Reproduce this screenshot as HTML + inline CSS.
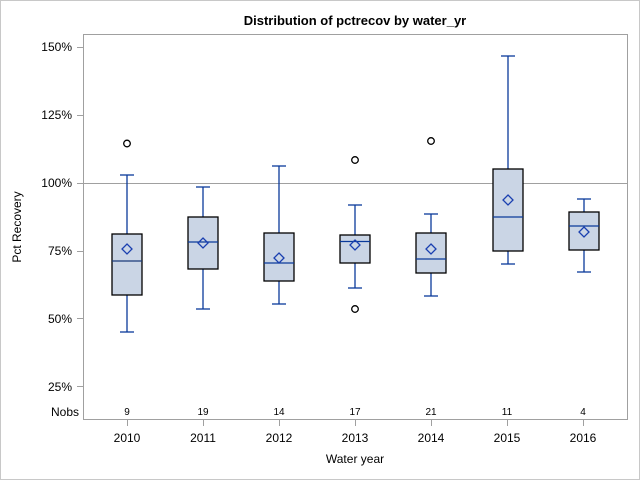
<!DOCTYPE html>
<html><head><style>body{margin:0;background:#fff}svg{display:block}</style></head><body>
<svg width="640" height="480" xmlns="http://www.w3.org/2000/svg" font-family="Liberation Sans, sans-serif">
<rect x="0.5" y="0.5" width="639" height="479" fill="#fff" stroke="#c8c8c8"/>
<text x="355" y="25" text-anchor="middle" font-size="13" font-weight="bold">Distribution of pctrecov by water_yr</text>
<rect x="83.5" y="34.5" width="544" height="385" fill="none" stroke="#a0a0a0"/>
<line x1="84" y1="183.5" x2="627" y2="183.5" stroke="#a0a0a0"/>
<g font-size="12" text-anchor="end" fill="#000">
<text x="72" y="51">150%</text><text x="72" y="119">125%</text><text x="72" y="187">100%</text>
<text x="72" y="255">75%</text><text x="72" y="323">50%</text><text x="72" y="391">25%</text>
<text x="79" y="416">Nobs</text>
</g>
<g stroke="#a0a0a0">
<line x1="77" y1="47.5" x2="83" y2="47.5"/><line x1="77" y1="115.5" x2="83" y2="115.5"/><line x1="77" y1="183.5" x2="83" y2="183.5"/>
<line x1="77" y1="251.5" x2="83" y2="251.5"/><line x1="77" y1="318.5" x2="83" y2="318.5"/><line x1="77" y1="386.5" x2="83" y2="386.5"/>
<line x1="127.5" y1="420" x2="127.5" y2="426"/><line x1="203.5" y1="420" x2="203.5" y2="426"/><line x1="279.5" y1="420" x2="279.5" y2="426"/>
<line x1="355.5" y1="420" x2="355.5" y2="426"/><line x1="431.5" y1="420" x2="431.5" y2="426"/><line x1="507.5" y1="420" x2="507.5" y2="426"/><line x1="583.5" y1="420" x2="583.5" y2="426"/>
</g>
<text x="21" y="227" font-size="12" text-anchor="middle" transform="rotate(-90 21 227)">Pct Recovery</text>
<text x="355" y="463" font-size="12" text-anchor="middle">Water year</text>
<g font-size="12" text-anchor="middle">
<text x="127" y="442">2010</text><text x="203" y="442">2011</text><text x="279" y="442">2012</text><text x="355" y="442">2013</text><text x="431" y="442">2014</text><text x="507" y="442">2015</text><text x="583" y="442">2016</text>
</g>
<g font-size="10" text-anchor="middle">
<text x="127" y="415">9</text><text x="203" y="415">19</text><text x="279" y="415">14</text><text x="355" y="415">17</text><text x="431" y="415">21</text><text x="507" y="415">11</text><text x="583" y="415">4</text>
</g>
<g id="boxes" stroke-width="1.3">
<!-- cx, wlo, whi, q1, q3, med, mean -->
<g transform="translate(127,0)">
<line x1="0" y1="175" x2="0" y2="332" stroke="#0a3a9a"/><line x1="-7" y1="175" x2="7" y2="175" stroke="#0a3a9a"/><line x1="-7" y1="332" x2="7" y2="332" stroke="#0a3a9a"/>
<rect x="-15" y="234" width="30" height="61" fill="#cad5e5" stroke="#000"/><line x1="-15" y1="261" x2="15" y2="261" stroke="#1a3a7a"/>
<path d="M0 244 L5 249 L0 254 L-5 249 Z" fill="none" stroke="#1a3fb0"/><circle cx="0" cy="143.5" r="3.3" fill="none" stroke="#000"/></g>
<g transform="translate(203,0)">
<line x1="0" y1="187" x2="0" y2="309" stroke="#0a3a9a"/><line x1="-7" y1="187" x2="7" y2="187" stroke="#0a3a9a"/><line x1="-7" y1="309" x2="7" y2="309" stroke="#0a3a9a"/>
<rect x="-15" y="217" width="30" height="52" fill="#cad5e5" stroke="#000"/><line x1="-15" y1="242" x2="15" y2="242" stroke="#0a3a9a"/>
<path d="M0 238 L5 243 L0 248 L-5 243 Z" fill="none" stroke="#1a3fb0"/></g>
<g transform="translate(279,0)">
<line x1="0" y1="166" x2="0" y2="304" stroke="#0a3a9a"/><line x1="-7" y1="166" x2="7" y2="166" stroke="#0a3a9a"/><line x1="-7" y1="304" x2="7" y2="304" stroke="#0a3a9a"/>
<rect x="-15" y="233" width="30" height="48" fill="#cad5e5" stroke="#000"/><line x1="-15" y1="263" x2="15" y2="263" stroke="#0a3a9a"/>
<path d="M0 253 L5 258 L0 263 L-5 258 Z" fill="none" stroke="#1a3fb0"/></g>
<g transform="translate(355,0)">
<line x1="0" y1="205" x2="0" y2="288" stroke="#0a3a9a"/><line x1="-7" y1="205" x2="7" y2="205" stroke="#0a3a9a"/><line x1="-7" y1="288" x2="7" y2="288" stroke="#0a3a9a"/>
<rect x="-15" y="235" width="30" height="28" fill="#cad5e5" stroke="#000"/><line x1="-15" y1="241.5" x2="15" y2="241.5" stroke="#0a3a9a"/>
<path d="M0 240 L5 245 L0 250 L-5 245 Z" fill="none" stroke="#1a3fb0"/><circle cx="0" cy="160" r="3.3" fill="none" stroke="#000"/><circle cx="0" cy="309" r="3.3" fill="none" stroke="#000"/></g>
<g transform="translate(431,0)">
<line x1="0" y1="214" x2="0" y2="296" stroke="#0a3a9a"/><line x1="-7" y1="214" x2="7" y2="214" stroke="#0a3a9a"/><line x1="-7" y1="296" x2="7" y2="296" stroke="#0a3a9a"/>
<rect x="-15" y="233" width="30" height="40" fill="#cad5e5" stroke="#000"/><line x1="-15" y1="259" x2="15" y2="259" stroke="#0a3a9a"/>
<path d="M0 244 L5 249 L0 254 L-5 249 Z" fill="none" stroke="#1a3fb0"/><circle cx="0" cy="141" r="3.3" fill="none" stroke="#000"/></g>
<g transform="translate(508,0)">
<line x1="0" y1="56" x2="0" y2="264" stroke="#0a3a9a"/><line x1="-7" y1="56" x2="7" y2="56" stroke="#0a3a9a"/><line x1="-7" y1="264" x2="7" y2="264" stroke="#0a3a9a"/>
<rect x="-15" y="169" width="30" height="82" fill="#cad5e5" stroke="#000"/><line x1="-15" y1="217" x2="15" y2="217" stroke="#0a3a9a"/>
<path d="M0 195 L5 200 L0 205 L-5 200 Z" fill="none" stroke="#1a3fb0"/></g>
<g transform="translate(584,0)">
<line x1="0" y1="199" x2="0" y2="272" stroke="#0a3a9a"/><line x1="-7" y1="199" x2="7" y2="199" stroke="#0a3a9a"/><line x1="-7" y1="272" x2="7" y2="272" stroke="#0a3a9a"/>
<rect x="-15" y="212" width="30" height="38" fill="#cad5e5" stroke="#000"/><line x1="-15" y1="226" x2="15" y2="226" stroke="#0a3a9a"/>
<path d="M0 227 L5 232 L0 237 L-5 232 Z" fill="none" stroke="#1a3fb0"/></g>
</g>
</svg>
</body></html>
